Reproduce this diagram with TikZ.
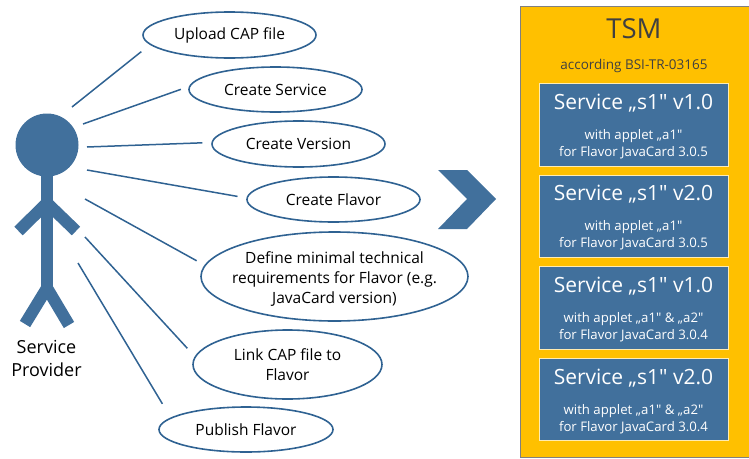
\documentclass[tikz,border=0pt]{standalone}
\usepackage{fontspec}
\setmainfont{Open Sans}[Ligatures=TeXOff]
\usetikzlibrary{positioning, arrows.meta, calc, shapes.geometric}
\definecolor{steel}{RGB}{65, 112, 156}
\definecolor{tsmgold}{RGB}{255, 192, 0}
\definecolor{linkblue}{RGB}{47, 98, 146}
\definecolor{inkgray}{RGB}{64, 64, 64}

\begin{document}
\begin{tikzpicture}[
    x=1pt, y=-1pt,
    usecase/.style={
        ellipse, draw=linkblue, fill=white, line width=1.6pt,
        inner sep=0pt, align=center, text=black,
        font=\fontsize{15.5}{20}\selectfont,
    },
    assoc/.style={draw=linkblue, line width=1.5pt, shorten >=#1},
    limb/.style={draw=steel, line width=12pt, miter limit=10},
    servicebox/.style={
        rectangle, fill=steel, draw=white!70!tsmgold, line width=0.7pt,
        minimum width=189pt, minimum height=82.5pt,
        text=white, align=center,
        font=\fontsize{13.2}{17}\selectfont,
    },
]
\useasboundingbox (0,0) rectangle (749,458);

% --- Actor ---
\node[circle, fill=steel, minimum size=63pt, inner sep=0pt] (head) at (47,145) {};
\coordinate (hip) at (47,288);
\draw[limb] (47,176) -- (hip);
\draw[limb] (18.5,231) -- (47,203) -- (76,231);
\draw[limb] (25,324) -- (hip) -- (69,325);
\node[align=center, font=\fontsize{18}{23}\selectfont] (actor) at (46.5,358)
    {Service\\Provider};

% --- Use cases ---
\node[usecase, minimum width=173pt, minimum height=46pt] (upload) at (229.5,35)
    {Upload CAP file};
\node[usecase, minimum width=173pt, minimum height=45pt] (service) at (275.5,89.5)
    {Create Service};
\node[usecase, minimum width=173pt, minimum height=46pt] (version) at (298.5,144)
    {Create Version};
\node[usecase, minimum width=173pt, minimum height=45pt] (flavor) at (333.5,199.5)
    {Create Flavor};
\node[usecase, inner xsep=-14pt, minimum width=267pt, minimum height=89pt] (define) at (334.5,276.5)
    {\rule{0pt}{17pt}Define minimal technical\\requirements for Flavor (e.g.\\JavaCard version)};
\node[usecase, minimum width=189pt, minimum height=69pt] (linkcap) at (287.5,364.5)
    {Link CAP file to\\Flavor};
\node[usecase, minimum width=174pt, minimum height=45pt] (publish) at (246,429.5)
    {Publish Flavor};

% --- Associations, free ends next to the actor ---
\coordinate (a1) at (72,107);
\coordinate (a2) at (83,124);
\coordinate (a3) at (87,147);
\coordinate (a4) at (87,170);
\coordinate (a5) at (85,199);
\coordinate (a6) at (85,237);
\coordinate (a7) at (78,263);
\draw[assoc=11pt] (a1) -- (upload.187.4);
\draw[assoc=8.5pt] (a2) -- (service.178);
\draw[assoc=9pt] (a3) -- (version.179);
\draw[assoc=9pt] (a4) -- (flavor.179);
\draw[assoc=9pt] (a5) -- (define.175);
\draw[assoc=11pt] (a6) -- (linkcap.175.3);
\draw[assoc=16pt] (a7) -- (publish.171.2);

% --- Chevron ---
\fill[steel] (438,170) -- (467,170) -- (496,199) -- (467,229) -- (438,229) -- (467,199) -- cycle;

% --- TSM ---
\node[rectangle, fill=tsmgold, draw=gray, line width=0.8pt, minimum width=229pt,
      minimum height=451pt, anchor=north west] (tsm) at (520,6) {};
\node[text=inkgray, font=\fontsize{27.5}{30}\selectfont] (tsmtitle) at (634,28.5) {TSM};
\node[text=inkgray, font=\fontsize{13.5}{16}\selectfont] (tsmnote) at (634,66)
    {according BSI-TR-03165};

\node[servicebox, anchor=north] (s1) at (633.5,83.3)
    {\rule{0pt}{19pt}{\fontsize{21}{24}\selectfont Service „s1" v1.0}\\[13pt]with applet „a1"\\for Flavor JavaCard 3.0.5};
\node[servicebox, below=8pt of s1] (s2)
    {\rule{0pt}{19pt}{\fontsize{21}{24}\selectfont Service „s1" v2.0}\\[13pt]with applet „a1"\\for Flavor JavaCard 3.0.5};
\node[servicebox, below=8.5pt of s2] (s3)
    {\rule{0pt}{19pt}{\fontsize{21}{24}\selectfont Service „s1" v1.0}\\[13pt]with applet „a1" \& „a2"\\for Flavor JavaCard 3.0.4};
\node[servicebox, below=8.5pt of s3] (s4)
    {\rule{0pt}{19pt}{\fontsize{21}{24}\selectfont Service „s1" v2.0}\\[13pt]with applet „a1" \& „a2"\\for Flavor JavaCard 3.0.4};
\end{tikzpicture}
\end{document}
